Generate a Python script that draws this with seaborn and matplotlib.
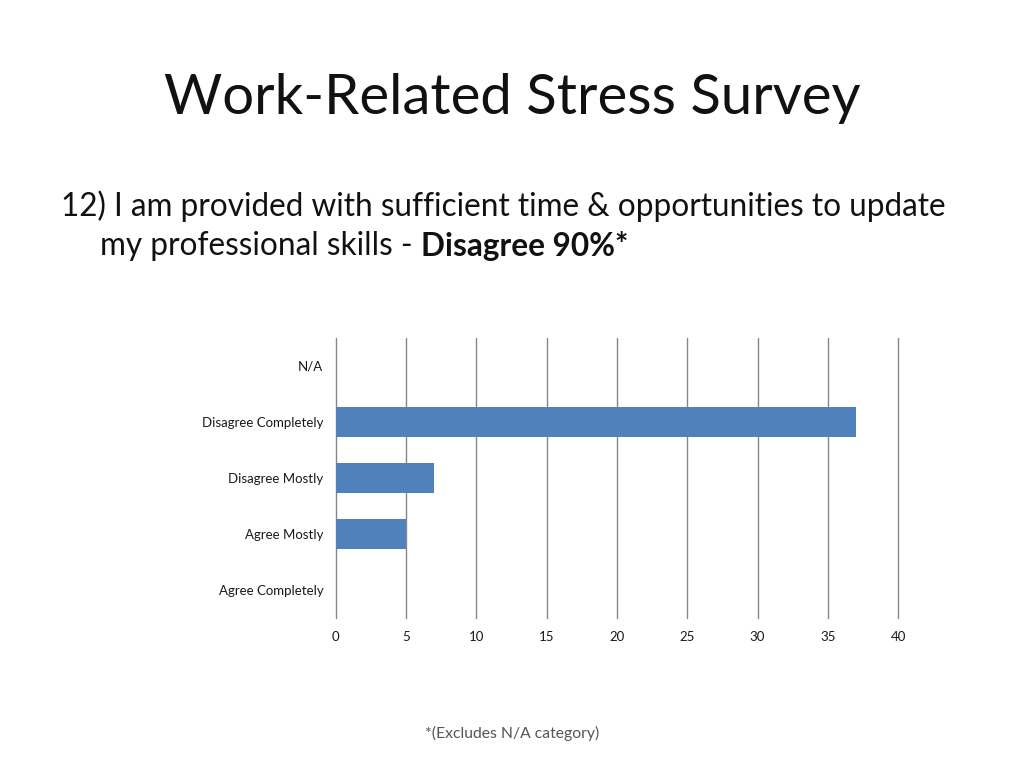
import numpy as np
import pandas as pd
import seaborn as sns
from matplotlib import pyplot as plt

# survey answers, top to bottom as in the slide
categories = ['N/A', 'Disagree Completely', 'Disagree Mostly', 'Agree Mostly', 'Agree Completely']
counts = [0, 37, 7, 5, 0]
x_ticks = [0, 5, 10, 15, 20, 25, 30, 35, 40]

sns.set_style('white')
plt.rcParams['font.family'] = ['Lato', 'DejaVu Sans']

df = pd.DataFrame({'answer': categories, 'count': counts})

fig = plt.figure(figsize=(10.24, 7.68), dpi=100)
ax = fig.add_axes([0.328, 0.1953, 0.549, 0.3646])

sns.barplot(data=df, x='count', y='answer', order=categories, color='#4F81BD',
            saturation=1, width=0.55, linewidth=0, ax=ax)

ax.set_xlim(0, 40)
ax.set_xticks(x_ticks)
ax.set_xlabel('')
ax.set_ylabel('')
ax.xaxis.grid(True, color='#868686', linewidth=1)
for gl in ax.get_xgridlines():
    gl.set_clip_on(False)
ax.set_axisbelow(True)
for s in ax.spines.values():
    s.set_visible(False)
ax.tick_params(axis='both', length=0, labelsize=9.5, colors='#1a1a1a')
ax.tick_params(axis='x', pad=9)
ax.tick_params(axis='y', pad=9)

fig.text(0.5, 0.872, 'Work-Related Stress Survey', ha='center', va='center',
         fontsize=40.5, color='#111111')

fig.text(0.060, 0.731, '12) I am provided with sufficient time & opportunities to update',
         ha='left', va='center', fontsize=22.7, color='#111111')
t2 = fig.text(0.098, 0.680, 'my professional skills - ', ha='left', va='center',
              fontsize=22.7, color='#111111')
ax.annotate('Disagree 90%*', xy=(1, 0), xycoords=t2, ha='left', va='bottom',
            fontsize=22.7, fontweight='bold', color='#111111')

fig.text(0.5, 0.045, '*(Excludes N/A category)', ha='center', va='center',
         fontsize=11.3, color='#555555')

fig.savefig('out.png', dpi=100)
